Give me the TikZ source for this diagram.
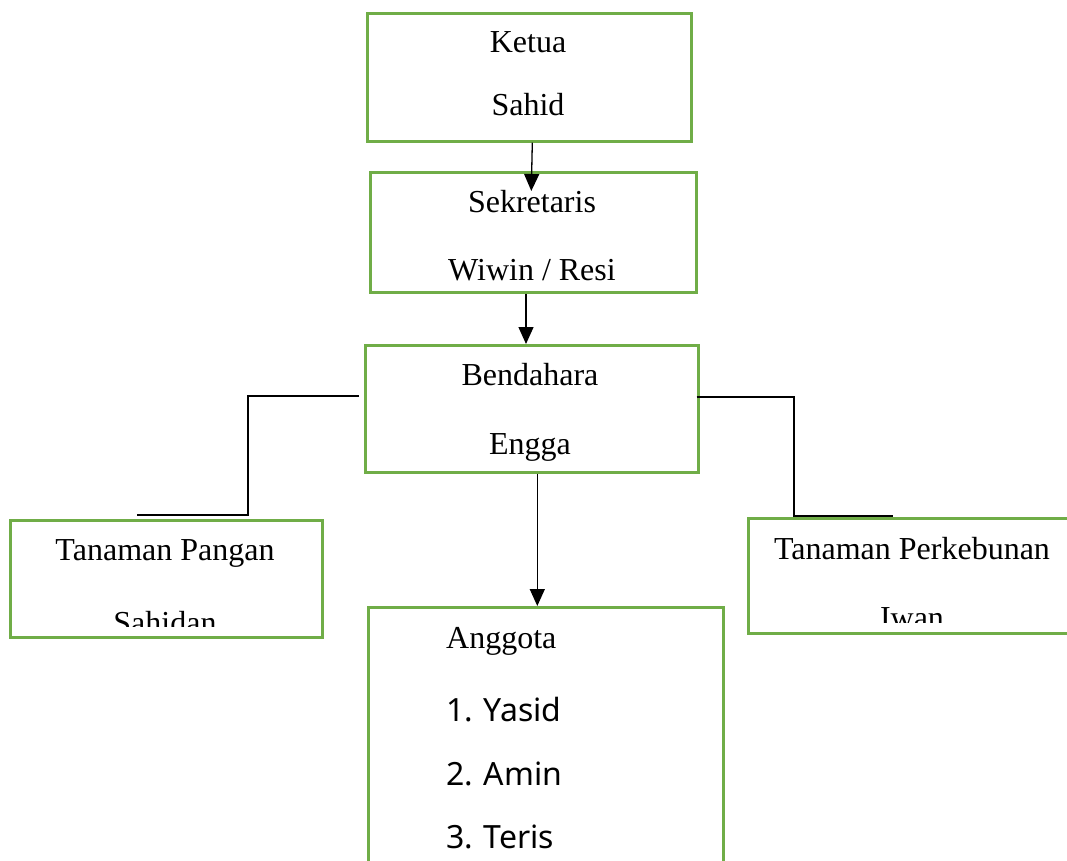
\documentclass[tikz,border=0pt]{standalone}
\usepackage{fontspec}
\setmainfont{Liberation Serif}
\newfontfamily\listfont{Noto Sans}
\usetikzlibrary{arrows.meta,calc}
\definecolor{boxgreen}{HTML}{70AD47}
\tikzset{
  box/.style={draw=boxgreen,line width=2.6pt,rectangle,inner sep=0pt,anchor=north west},
  txt/.style={anchor=base,inner sep=0pt,font=\fontsize{32}{38}\selectfont},
  lst/.style={anchor=base west,inner sep=0pt,font=\listfont\fontsize{32}{38}\selectfont},
  conn/.style={draw=black,line width=1.3pt},
  arr/.style={conn,-{Triangle[length=17pt,width=15pt]}}
}
\begin{document}
\begin{tikzpicture}[x=1pt,y=-1pt]
\useasboundingbox (0,0) rectangle (1067,861);
\clip (0,0) rectangle (1067,861);
% boxes
\node[box,minimum width=324pt,minimum height=128pt] (ketua) at (366,12) {};
\node[box,minimum width=326pt,minimum height=120pt] (sek) at (369,171) {};
\node[box,minimum width=333pt,minimum height=127pt] (bend) at (364,344) {};
\node[box,minimum width=312pt,minimum height=117pt] (pangan) at (9,519) {};
\node[box,minimum width=330pt,minimum height=115pt] (kebun) at (747,517) {};
\node[box,minimum width=355pt,minimum height=280pt] (anggota) at (367,606) {};
% texts
\node[txt] (t1) at (528,53) {Ketua};
\node[txt] (t2) at (528,116) {Sahid};
\node[txt] (t3) at (532,212) {Sekretaris};
\node[txt] (t4) at (532,280) {Wiwin / Resi};
\node[txt] (t5) at (530,385) {Bendahara};
\node[txt] (t6) at (530,454) {Engga};
\node[txt] (t7) at (165,560) {Tanaman Pangan};
\begin{scope}
\clip (9,519) rectangle (321,626);
\node[txt] (t8) at (165,633) {Sahidan};
\end{scope}
\node[txt] (t9) at (912,559) {Tanaman Perkebunan};
\begin{scope}
\clip (747,517) rectangle (1067,622);
\node[txt] (t10) at (912,628) {Iwan};
\end{scope}
\node[txt,anchor=base west] (t11) at (446,648) {Anggota};
\node[lst] (l1) at (446,721) {1.\,\,Yasid};
\node[lst] (l2) at (446,785) {2.\,\,Amin};
\node[lst] (l3) at (446,848) {3.\,\,Teris};
% connectors
\coordinate (a2) at (526,0);
\draw[arr] ([xshift=3pt]ketua.south) -- ([xshift=-2pt,yshift=-20pt]sek.north);
\draw[arr] (sek.south -| a2) -- (bend.north -| a2);
\draw[arr] ([xshift=5.5pt]bend.south) -- ([xshift=-8.5pt]anggota.north);
\coordinate (lc) at (137,515);
\coordinate (rc) at (893,516);
\draw[conn] ([xshift=-5pt,yshift=-52pt]bend.north west) -| (lc -| 248,0) -- (lc);
\draw[conn] ([xshift=-3pt,yshift=-53pt]bend.north east) -| (rc -| 794,0) -- (rc);
\end{tikzpicture}
\end{document}
